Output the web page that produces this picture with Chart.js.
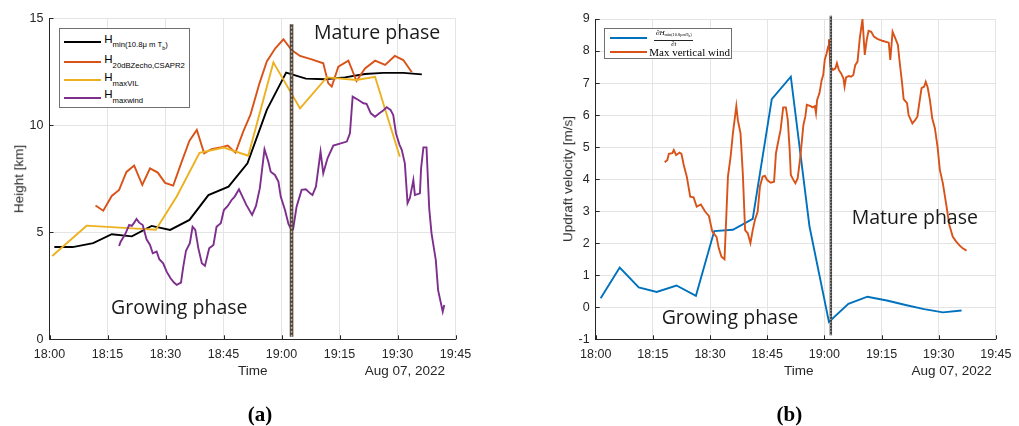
<!DOCTYPE html>
<html>
<head>
<meta charset="utf-8">
<script src="https://cdn.jsdelivr.net/npm/chart.js@4.4.1/dist/chart.umd.min.js"></script>
<style>
  body { margin: 0; background: #fff; }
  #wrap { position: relative; width: 1019px; height: 426px; overflow: hidden; font-family: "Liberation Sans", Arial, sans-serif; color: #262626; }
  canvas { position: absolute; top: 0; }
  .t { position: absolute; white-space: nowrap; line-height: 1; }
  .c { transform: translate(-50%, -50%); }
  .r { transform: translateY(-50%); }
  .rot { transform: translate(-50%, -50%) rotate(-90deg); }
  .ax { font-size: 13.5px; }
  .phase { font-family: "Open Sans", sans-serif; font-size: 19.5px; color: #1a1a1a; }
  .cap { font-family: "Liberation Serif", serif; font-weight: bold; font-size: 21px; color: #000; }
  .leg { position: absolute; background: #fff; border: 1px solid #707070; box-sizing: border-box; }
  .leg .ln { position: absolute; height: 2px; }
  .leg .tx { position: absolute; white-space: nowrap; font-size: 11.5px; line-height: 12px; color: #000; }
  .leg .tx sub { font-size: 7.7px; vertical-align: -4.5px; }
  .leg .tx sub sub { font-size: 5.5px; vertical-align: -2.5px; }
</style>
</head>
<body>
<div id="wrap">
  <canvas id="chartA" width="510" height="426" style="left:0"></canvas>
  <canvas id="chartB" width="509" height="426" style="left:510px"></canvas>

  <!-- panel (a) texts -->
  <div class="t ax rot" style="left:19px;top:179px">Height [km]</div>
  <div class="t ax c" style="left:252.7px;top:370.7px">Time</div>
  <div class="t ax r" style="right:574px;top:370.7px">Aug 07, 2022</div>
  <div class="t phase r" style="left:314px;top:32.3px">Mature phase</div>
  <div class="t phase r" style="left:111px;top:307.3px">Growing phase</div>
  <div class="t cap c" style="left:260px;top:414px">(a)</div>

  <div class="leg" style="left:58.5px;top:28.3px;width:131.5px;height:80px">
    <div class="ln" style="left:4.8px;top:12.2px;width:36.7px;background:#000"></div>
    <div class="tx" style="left:44.8px;top:3.6px">H<sub>min(10.8μ m T<sub>b</sub>)</sub></div>
    <div class="ln" style="left:4.8px;top:32.2px;width:36.7px;background:#D95319"></div>
    <div class="tx" style="left:44.8px;top:23.6px">H<sub>20dBZecho,CSAPR2</sub></div>
    <div class="ln" style="left:4.8px;top:50px;width:36.7px;background:#EDB120"></div>
    <div class="tx" style="left:44.8px;top:41.4px">H<sub>maxVIL</sub></div>
    <div class="ln" style="left:4.8px;top:67.4px;width:36.7px;background:#7E2F8E"></div>
    <div class="tx" style="left:44.8px;top:58.8px">H<sub>maxwind</sub></div>
  </div>

  <!-- panel (b) texts -->
  <div class="t ax rot" style="left:568.3px;top:179px">Updraft velocity [m/s]</div>
  <div class="t ax c" style="left:798.7px;top:370.7px">Time</div>
  <div class="t ax r" style="right:27.3px;top:370.7px">Aug 07, 2022</div>
  <div class="t phase r" style="left:851.7px;top:217.3px">Mature phase</div>
  <div class="t phase r" style="left:661.7px;top:316.7px">Growing phase</div>
  <div class="t cap c" style="left:789.3px;top:414px">(b)</div>

  <div class="leg" style="left:604.3px;top:28.3px;width:128px;height:30.7px">
    <div class="ln" style="left:5px;top:8px;width:36.7px;background:#0072BD"></div>
    <div style="position:absolute;left:45px;top:0.6px;width:47px;font-family:'Liberation Serif',serif;font-style:italic;color:#000;text-align:center">
      <div style="font-size:7px;line-height:6px">∂H<sub style="font-size:4.3px;vertical-align:-1.2px;font-style:normal">min(10.8μmT<sub style="font-size:3.5px;vertical-align:-1px">b</sub>)</sub></div>
      <div style="margin:0.6px 4px 0 4px;border-top:0.6px solid #222"></div>
      <div style="font-size:6.5px;line-height:5.5px;margin-top:0.3px">∂t</div>
    </div>
    <div class="ln" style="left:5px;top:21.4px;width:36.7px;background:#D95319"></div>
    <div class="tx" style="left:44px;top:16.8px;font-family:'Liberation Serif',serif;font-size:11px">Max vertical wind</div>
  </div>
</div>

<script>
// eje x en minutos desde las 18:00
const timeLabels = ['18:00', '18:15', '18:30', '18:45', '19:00', '19:15', '19:30', '19:45'];

// (a) alturas [km]
const hMinTime = [1.25, 6.0, 11.3, 16.1, 21.3, 26.4, 31.2, 36.2, 41.1, 46.3, 51.2, 56.2, 61.2, 66.3, 71.2, 76.4, 81.6, 86.3, 91.5, 96.3];
const hMinKm = [4.31, 4.31, 4.49, 4.91, 4.81, 5.30, 5.11, 5.58, 6.74, 7.13, 8.22, 10.72, 12.46, 12.18, 12.15, 12.24, 12.40, 12.45, 12.45, 12.38];

const h20Time = [11.9, 13.9, 16.1, 18.0, 19.9, 21.9, 24.0, 26.0, 28.0, 29.9, 32.0, 34.2, 36.2, 38.1, 40.0, 41.9, 44.1, 46.1, 48.1, 50.1,
  52.0, 54.3, 56.2, 58.4, 60.5, 62.6, 64.8, 67.8, 70.8, 72.1, 73.0, 74.7, 77.3, 79.4, 81.6, 84.2, 86.8, 89.3, 91.5, 93.7];
const h20Km = [6.25, 6.01, 6.70, 6.98, 7.82, 8.12, 7.21, 7.99, 7.79, 7.31, 7.18, 8.30, 9.28, 9.78, 8.69, 8.89, 8.96, 9.05, 8.72, 9.70,
  10.51, 11.96, 12.98, 13.60, 14.02, 13.52, 13.24, 13.08, 12.90, 11.96, 11.81, 12.74, 13.02, 12.07, 12.66, 13.02, 12.82, 13.24, 13.05, 12.48];

const vilTime = [0.7, 9.6, 22.5, 27.5, 32.9, 38.8, 45.1, 51.4, 57.9, 64.8, 71.7, 79.4, 84.2, 90.6];
const vilKm = [3.89, 5.31, 5.17, 5.12, 6.67, 8.71, 8.96, 8.58, 12.94, 10.79, 12.24, 12.12, 12.27, 8.53];

const hWindTime = [18.0, 18.4, 19.5, 20.6, 21.3, 21.9, 22.5, 23.2, 24.1, 25.1, 26.0, 26.7, 27.7, 28.4, 29.4, 30.3, 31.3, 32.2, 32.9, 34.0,
  34.6, 35.3, 36.3, 37.0, 37.7, 38.5, 39.4, 40.2, 41.3, 42.4, 43.2, 44.3, 45.1, 46.1, 47.1, 47.9, 49.0, 49.9, 50.9, 52.4,
  53.4, 54.4, 55.6, 56.6, 57.2, 58.3, 59.2, 59.8, 60.9, 61.8, 62.5, 63.0, 63.9, 65.2, 66.3, 67.4, 68.0, 68.9, 70.1, 70.8,
  71.9, 73.4, 76.9, 77.7, 78.4, 79.9, 81.2, 82.0, 83.1, 84.2, 85.3, 86.3, 87.2, 88.2, 88.9, 89.6, 90.5, 91.1, 91.9, 92.6,
  93.2, 94.1, 94.5, 95.8, 96.1, 96.7, 97.5, 98.2, 98.8, 99.9, 100.5, 101.7, 102.1];
const hWindKm = [4.36, 4.56, 4.88, 5.34, 5.30, 5.45, 5.62, 5.45, 5.34, 4.67, 4.41, 4.02, 4.10, 3.74, 3.55, 3.16, 2.85, 2.65, 2.54, 2.65,
  3.40, 4.14, 4.49, 5.26, 5.11, 4.25, 3.55, 3.43, 4.25, 4.41, 5.26, 5.42, 6.04, 6.23, 6.51, 6.67, 7.01, 6.67, 6.28, 5.81,
  6.23, 7.06, 8.88, 8.30, 7.83, 7.68, 7.37, 6.67, 6.04, 5.39, 5.14, 5.14, 6.20, 6.98, 7.01, 6.82, 6.74, 7.13, 8.77, 7.76,
  8.46, 9.05, 9.24, 9.63, 11.34, 11.18, 11.03, 11.00, 10.56, 10.40, 10.56, 10.69, 10.84, 10.72, 10.48, 9.63, 9.10, 8.85, 8.22, 6.36,
  6.60, 7.44, 6.74, 6.82, 7.99, 8.97, 8.97, 6.12, 4.95, 3.71, 2.30, 1.29, 1.60];

// (b) velocidades [m/s]
const dHdtTime = [1.3, 6.3, 11.3, 16.0, 21.2, 26.3, 31.1, 36.0, 41.2, 46.2, 51.2, 56.1, 61.2, 66.3, 71.3, 76.4, 81.3, 86.2, 91.1, 96.0];
const dHdtVal = [0.28, 1.24, 0.62, 0.48, 0.68, 0.36, 2.38, 2.42, 2.76, 6.50, 7.20, 2.52, -0.46, 0.11, 0.33, 0.21, 0.07, -0.06, -0.16, -0.10];

const wMaxTime = [18.1, 18.8, 19.2, 20.1, 20.5, 21.1, 22.0, 22.5, 23.1, 23.9, 24.8, 25.7, 26.5, 27.6, 28.7, 29.7, 30.6, 31.7, 32.3, 33.0,
  33.8, 34.7, 35.4, 36.0, 36.9, 37.3, 38.0, 38.6, 39.2, 39.9, 40.6, 41.2, 41.8, 42.5, 43.1, 43.8, 44.4, 45.0, 45.9, 46.8,
  47.3, 47.8, 48.5, 49.2, 49.9, 50.4, 50.9, 51.2, 51.9, 52.4, 53.0, 53.7, 54.5, 55.0, 55.4, 56.4, 56.9, 57.5, 57.8, 58.1,
  58.7, 59.3, 59.7, 60.1, 60.6, 61.0, 61.2, 61.6, 62.3, 62.9, 63.3, 63.8, 64.4, 65.0, 65.3, 65.7, 66.4, 67.0, 67.6, 68.1,
  68.7, 69.3, 70.0, 70.6, 71.1, 71.6, 72.3, 73.0, 73.9, 75.2, 76.9, 77.3, 77.9, 78.6, 79.3, 79.7, 80.4, 80.8, 81.7, 82.1,
  83.1, 83.8, 84.4, 85.1, 85.5, 86.2, 86.6, 87.1, 87.7, 88.3, 89.0, 89.7, 90.3, 91.1, 92.0, 92.8, 93.7, 94.6, 95.4, 96.3, 97.3];
const wMaxVal = [4.53, 4.60, 4.79, 4.81, 4.91, 4.75, 4.83, 4.79, 4.44, 4.08, 3.45, 3.43, 3.14, 3.21, 2.99, 2.85, 2.36, 2.20, 1.84, 1.58,
  1.50, 4.08, 4.70, 5.43, 6.28, 5.84, 5.43, 4.18, 2.41, 2.31, 2.00, 2.41, 2.73, 2.99, 3.77, 4.08, 4.10, 3.97, 3.89, 3.92,
  4.81, 5.12, 5.53, 6.24, 6.24, 5.85, 4.91, 4.13, 3.97, 3.87, 4.03, 4.70, 5.69, 5.95, 6.32, 6.28, 6.24, 6.28, 6.06, 6.47,
  6.68, 7.10, 7.25, 7.72, 7.93, 8.14, 8.37, 7.51, 7.41, 7.46, 7.62, 7.41, 7.30, 7.15, 6.89, 7.18, 7.22, 7.20, 7.25, 7.56,
  7.67, 8.40, 9.00, 7.88, 8.34, 8.63, 8.60, 8.45, 8.38, 8.32, 8.26, 7.72, 8.60, 8.40, 8.19, 7.72, 6.99, 6.50, 6.37, 6.00,
  5.74, 5.84, 5.95, 6.52, 6.84, 6.89, 7.04, 6.87, 6.47, 5.90, 5.59, 5.01, 4.29, 3.87, 3.19, 2.57, 2.20, 2.05, 1.94, 1.84, 1.77];

// linea vertical que separa las fases
const splitTimeA = 62.6, splitYA = [0.12, 14.72];
const splitTimeB = 61.7, splitYB = [-0.87, 9.1];

function pts(xs, ys) {
  return xs.map((x, i) => ({ x: x, y: ys[i] }));
}

function serie(xs, ys, color, order) {
  return { data: pts(xs, ys), borderColor: color, borderWidth: 1.9, pointRadius: 0, tension: 0, fill: false, order: order };
}

function splitLine(t, ys, color, width, dash, order) {
  return { data: pts([t, t], ys), borderColor: color, borderWidth: width, borderDash: dash, pointRadius: 0, fill: false, order: order, clip: false };
}

// marcas de los ticks hacia dentro, como en MATLAB
const insideTicks = {
  id: 'insideTicks',
  beforeDatasetsDraw(chart) {
    const { ctx, chartArea: a, scales: { x, y } } = chart;
    ctx.save();
    ctx.strokeStyle = '#262626';
    ctx.lineWidth = 1;
    ctx.beginPath();
    x.ticks.forEach(t => {
      const px = Math.round(x.getPixelForValue(t.value)) + 0.5;
      ctx.moveTo(px, a.bottom); ctx.lineTo(px, a.bottom - 4);
    });
    y.ticks.forEach(t => {
      const py = Math.round(y.getPixelForValue(t.value)) + 0.5;
      ctx.moveTo(a.left, py); ctx.lineTo(a.left + 4, py);
    });
    ctx.stroke();
    ctx.restore();
  }
};

function opciones(yMin, yMax, yStep, yWidth, padRight, padTop) {
  const tickFont = { family: 'Liberation Sans', size: 12.5 };
  return {
    responsive: false,
    animation: false,
    devicePixelRatio: 1,
    layout: { padding: { left: 0, top: padTop, right: padRight, bottom: 0 } },
    plugins: { legend: { display: false }, tooltip: { enabled: false } },
    scales: {
      x: {
        type: 'linear', min: 0, max: 105,
        afterFit: s => { s.height = 86.7; },
        ticks: { stepSize: 15, autoSkip: false, maxRotation: 0, padding: 7.5, color: '#262626', font: tickFont,
          callback: v => timeLabels[Math.round(v / 15)] },
        grid: { color: '#e4e4e4', drawTicks: false },
        border: { color: '#262626', width: 1 }
      },
      y: {
        min: yMin, max: yMax,
        afterFit: s => { s.width = yWidth; },
        ticks: { stepSize: yStep, padding: 6, color: '#262626', font: tickFont },
        grid: { color: '#e4e4e4', drawTicks: false },
        border: { color: '#262626', width: 1 }
      }
    }
  };
}

const chartA = new Chart(document.getElementById('chartA').getContext('2d'), {
  type: 'line',
  data: {
    datasets: [
      serie(hMinTime, hMinKm, '#000000', 6),
      serie(h20Time, h20Km, '#D95319', 5),
      serie(vilTime, vilKm, '#EDB120', 4),
      serie(hWindTime, hWindKm, '#7E2F8E', 3),
      splitLine(splitTimeA, splitYA, '#4f4238', 3.6, [], 2),
      splitLine(splitTimeA, splitYA, '#c2b2a2', 1.5, [2, 2], 1)
    ]
  },
  options: opciones(0, 15, 5, 49.5, 54.5, 18.3),
  plugins: [insideTicks]
});

const chartB = new Chart(document.getElementById('chartB').getContext('2d'), {
  type: 'line',
  data: {
    datasets: [
      serie(dHdtTime, dHdtVal, '#0072BD', 4),
      serie(wMaxTime, wMaxVal, '#D95319', 3),
      splitLine(splitTimeB, splitYB, '#3a3a3a', 2.4, [], 2),
      splitLine(splitTimeB, splitYB, '#d8d8d8', 0.9, [1.5, 1.5], 1)
    ]
  },
  options: opciones(-1, 9, 1, 85.7, 17, 19),
  plugins: [insideTicks]
});
</script>
</body>
</html>
